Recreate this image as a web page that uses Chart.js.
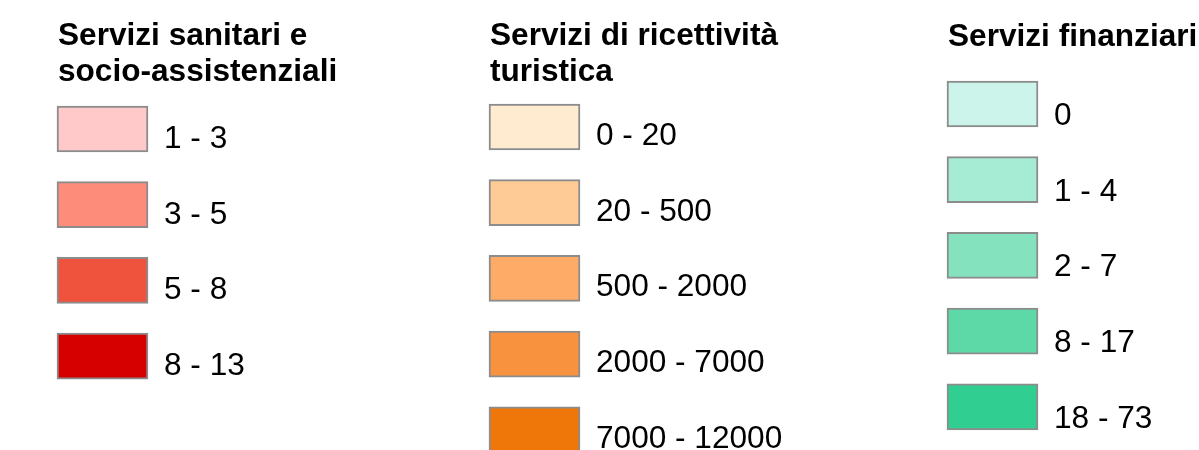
<!DOCTYPE html>
<html>
<head>
<meta charset="utf-8">
<script src="https://cdn.jsdelivr.net/npm/chart.js@4/dist/chart.umd.min.js"></script>
<style>
    html, body { margin: 0; padding: 0; background: #ffffff; }
    #wrap { width: 1199px; height: 450px; position: relative; }
</style>
</head>
<body>
<div id="wrap"><canvas id="legendChart"></canvas></div>
<script>
// Legend data: one group per map layer
const groupTitles = [
    ['Servizi sanitari e', 'socio-assistenziali'],
    ['Servizi di ricettività', 'turistica'],
    ['Servizi finanziari']
];
const sanitariClasses = ['1 - 3', '3 - 5', '5 - 8', '8 - 13'];
const ricettivitaClasses = ['0 - 20', '20 - 500', '500 - 2000', '2000 - 7000', '7000 - 12000'];
const finanziariClasses = ['0', '1 - 4', '2 - 7', '8 - 17', '18 - 73'];

const sanitariColors = ['#ffc9c9', '#fd8c7a', '#f0533d', '#d60000'];
const ricettivitaColors = ['#ffebcf', '#fecb96', '#fdab66', '#f8923e', '#ef7609'];
const finanziariColors = ['#ccf4ea', '#a6ecd5', '#84e3be', '#5dd9a7', '#30cf91'];

const classes = [sanitariClasses, ricettivitaClasses, finanziariClasses];
const colors = [sanitariColors, ricettivitaColors, finanziariColors];

// Layout (pixels, since the hidden scales map 1:1 to the canvas)
const colLeft = [57, 489, 947];
const firstTop = [106, 104, 81];
const titleBaseline = [45, 45, 46];
const labelShift = [4, 5, 2];
const swatchW = 91;
const swatchH = 46;
const step = 75.7;
const labelGap = 16;

const datasets = classes.map((list, c) => ({
    label: groupTitles[c].join(' '),
    data: list.map((_, i) => ({
        x: [colLeft[c], colLeft[c] + swatchW],
        y: firstTop[c] + i * step + swatchH / 2
    })),
    backgroundColor: colors[c],
    borderColor: '#8c8c8c',
    borderWidth: 2,
    borderSkipped: false,
    barThickness: swatchH
}));

const legendText = {
    id: 'legendText',
    afterDatasetsDraw(chart) {
        const ctx = chart.ctx;
        const xs = chart.scales.x;
        const ys = chart.scales.y;
        ctx.save();
        ctx.fillStyle = '#000000';
        ctx.textAlign = 'left';
        ctx.textBaseline = 'alphabetic';
        groupTitles.forEach((lines, c) => {
            ctx.font = 'bold 31.6px "Liberation Sans", Arial, sans-serif';
            lines.forEach((line, k) => {
                ctx.fillText(line, xs.getPixelForValue(colLeft[c]) + 1, ys.getPixelForValue(titleBaseline[c] + k * 36));
            });
            ctx.font = '31.6px "Liberation Sans", Arial, sans-serif';
            classes[c].forEach((txt, i) => {
                const bottom = firstTop[c] + i * step + swatchH;
                ctx.fillText(txt, xs.getPixelForValue(colLeft[c] + swatchW + labelGap), ys.getPixelForValue(bottom - labelShift[c]));
            });
        });
        ctx.restore();
    }
};

new Chart(document.getElementById('legendChart').getContext('2d'), {
    type: 'bar',
    data: { datasets: datasets },
    options: {
        indexAxis: 'y',
        responsive: true,
        maintainAspectRatio: false,
        animation: false,
        layout: { padding: 0 },
        plugins: {
            legend: { display: false },
            tooltip: { enabled: false }
        },
        scales: {
            x: { type: 'linear', min: 0, max: 1199, display: false, offset: false },
            y: { type: 'linear', min: 0, max: 450, reverse: true, display: false, offset: false, stacked: true }
        }
    },
    plugins: [legendText]
});
</script>
</body>
</html>
